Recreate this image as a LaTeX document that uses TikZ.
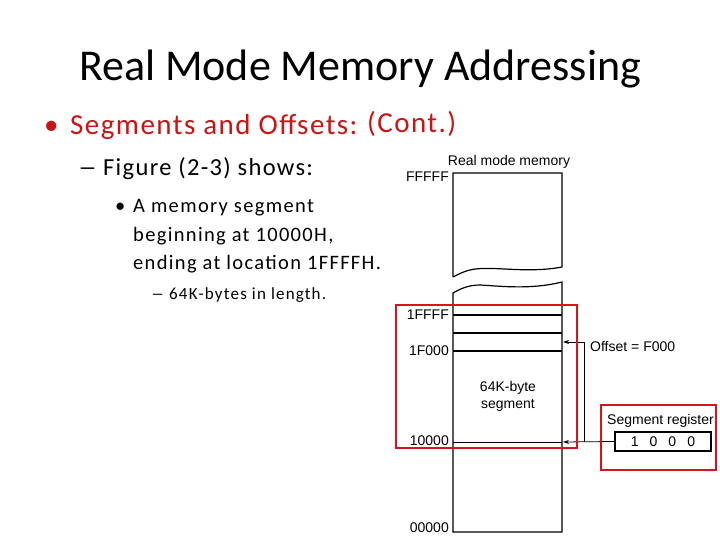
\documentclass[tikz,border=0pt]{standalone}
\usepackage{fontspec}
\setmainfont{Carlito}
\newfontfamily\figfont{Liberation Sans}
\usetikzlibrary{arrows.meta}
\definecolor{slidered}{RGB}{200,20,20}
\definecolor{boxred}{RGB}{215,20,30}
\newcommand{\longdash}{\scalebox{1.55}[1]{–}}
\begin{document}
\begin{tikzpicture}[x=1pt,y=-1pt,
  slidetext/.style={anchor=base west, inner sep=0pt},
  lvlone/.style={slidetext, text=slidered, font=\fontsize{29}{32}\selectfont\addfontfeature{LetterSpace=5}},
  lvltwo/.style={slidetext, font=\fontsize{24.5}{28}\selectfont\addfontfeature{LetterSpace=5.4}},
  lvlthree/.style={slidetext, font=\fontsize{20.5}{24}\selectfont\addfontfeature{LetterSpace=6.5}},
  lvlfour/.style={slidetext, font=\fontsize{17}{20}\selectfont\addfontfeature{LetterSpace=7}},
  figtext/.style={font=\figfont\fontsize{14}{16}\selectfont, inner sep=0pt},
  addr/.style={figtext, anchor=east},
  memline/.style={line width=1.2pt},
  sepline/.style={line width=1.6pt},
  redbox/.style={draw=boxred, line width=2.6pt},
  ptr/.style={line width=0.8pt, -{Stealth[length=6pt,width=4pt]}}]
\useasboundingbox (0,0) rectangle (720,540);

% title
\node[anchor=base, inner sep=0pt, font=\fontsize{44}{50}\selectfont] (title) at (360,81) {Real Mode Memory Addressing};

% bullets
\node[lvlone] (b1) at (44,135) {•};
\node[lvlone] (seg) at (70,135) {Segments and Offsets:};
\node[lvlone] (cont) at (367,133) {(Cont.)};
\node[lvltwo] (d1) at (78,176) {\longdash};
\node[lvltwo] (fig) at (103,176) {Figure (2-3) shows:};
\node[lvlthree] (b2) at (115,213) {•};
\node[lvlthree] (l1) at (133,213) {A memory segment};
\node[lvlthree] (l2) at (133,241) {beginning at 10000H,};
\node[lvlthree] (l3) at (133,269) {ending at location 1FFFFH.};
\node[lvlfour] (d2) at (151,299) {\longdash};
\node[lvlfour] (l4) at (169,299) {64K-bytes in length.};

% memory column
\draw[memline] (453,277) -- (453,173) -- (562,173) -- (562,267)
  .. controls (525,274) and (490,265) .. (470,270) .. controls (462,272) and (457,275) .. (453,277);
\draw[memline] (453,293) .. controls (460,289) and (468,285) .. (480,285)
  .. controls (500,286) and (530,290) .. (562,282) -- (562,532) -- (453,532) -- cycle;
\draw[sepline] (453,315) -- (562,315);
\draw[line width=1.3pt] (453,333) -- (562,333);
\draw[sepline] (453,351) -- (562,351);
\draw[line width=0.8pt] (453,442) -- (562,442);

\coordinate (memOff) at (563,342);
\coordinate (memSeg) at (563,442);
\coordinate (bend) at (584,442);

\node[figtext, anchor=base] (rmm) at (509,166) {Real mode memory};
\node[addr] (aF) at (449,177) {FFFFF};
\node[addr] (a1F) at (449,315) {1FFFF};
\node[addr] (a1F0) at (449,351) {1F000};
\node[addr] (a10) at (449,441) {10000};
\node[addr] (a00) at (449,528) {00000};
\node[figtext, align=center] (segtxt) at (508,396) {64K-byte\\[1pt]segment};

% offset and segment register
\node[figtext, anchor=west] (off) at (590,347) {Offset = F000};
\node[figtext, anchor=west] (sreg) at (607,421) {Segment register};
\node[draw, line width=1.5pt, minimum width=96pt, minimum height=19pt, inner sep=0pt,
  font=\figfont\fontsize{14}{16}\selectfont] (reg) at (663,441.5) {1\hspace{11pt}0\hspace{11pt}0\hspace{11pt}0};

\draw[ptr] (reg.west) -- (memSeg);
\draw[ptr] (bend) |- (memOff);

% red highlight boxes
\draw[redbox] (396,305) rectangle (577,448);
\draw[redbox] (601,405) rectangle (716,470);
\end{tikzpicture}
\end{document}
